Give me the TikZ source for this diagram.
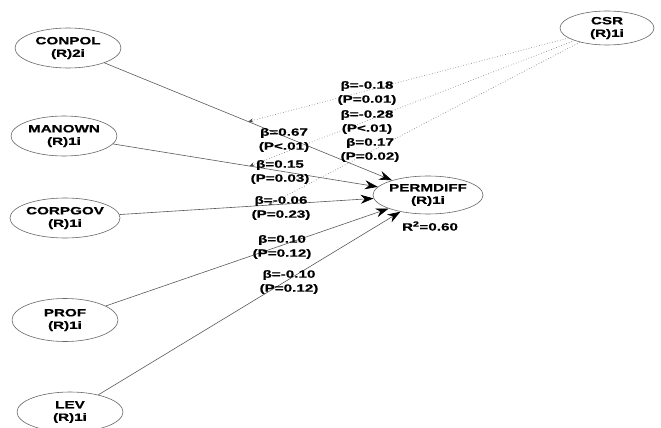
\documentclass[tikz,border=0pt]{standalone}
\usepackage{fontspec}
\setmainfont{Liberation Sans}[FakeStretch=1.45,BoldFeatures={FakeBold=0.6}]
\usetikzlibrary{shapes.geometric,arrows.meta}
\begin{document}
\begin{tikzpicture}[x=1pt,y=-1pt,
 lv/.style={ellipse,draw=black!60,line width=0.6pt,minimum width=106pt,minimum height=40pt,inner sep=0pt,align=center,font=\bfseries\fontsize{10.5}{12.5}\selectfont},
 pathline/.style={draw=black!65,line width=0.6pt,-{Stealth[length=13pt,width=9pt,black]}},
 modline/.style={draw=black!45,dotted,line width=0.7pt,-{Stealth[length=5pt,width=4pt,black!70]}},
 lbl/.style={align=center,font=\bfseries\fontsize{10.5}{14}\selectfont,inner sep=0pt}]
\useasboundingbox (0,0) rectangle (661,428);
\node[lv] (CONPOL) at (68,48) {CONPOL\\(R)2i};
\node[lv] (MANOWN) at (64,136) {MANOWN\\(R)1i};
\node[lv] (CORPGOV) at (65,218) {CORPGOV\\(R)1i};
\node[lv,minimum height=43pt] (PROF) at (65,320) {PROF\\(R)1i};
\node[lv] (LEV) at (70,412) {LEV\\(R)1i};
\node[lv,minimum height=38pt] (PERMDIFF) at (428,195) {PERMDIFF\\(R)1i};
\node[lv,minimum width=94pt,minimum height=34pt] (CSR) at (607,28) {CSR\\(R)1i};
\draw[pathline] (CONPOL) -- (PERMDIFF);
\draw[pathline] (MANOWN) -- (PERMDIFF);
\draw[pathline] (CORPGOV) -- (PERMDIFF);
\draw[pathline] (PROF) -- (PERMDIFF);
\draw[pathline] (LEV) -- (PERMDIFF);
\path (CONPOL) -- (PERMDIFF) coordinate[pos=0.5] (m1);
\path (MANOWN) -- (PERMDIFF) coordinate[pos=0.515] (m2);
\path (CORPGOV) -- (PERMDIFF) coordinate[pos=0.585] (m3);
\draw[modline] (CSR) -- (m1);
\draw[modline] (CSR) -- (m2);
\draw[modline] (CSR) -- (m3);
\node[lbl] (l1) at (284,140) {β=0.67\\(P<.01)};
\node[lbl] (l2) at (280,172) {β=0.15\\(P=0.03)};
\node[lbl] (l3) at (281,208) {β=-0.06\\(P=0.23)};
\node[lbl] (l4) at (282,247) {β=0.10\\(P=0.12)};
\node[lbl] (l5) at (289,282) {β=-0.10\\(P=0.12)};
\node[lbl] (l6) at (367,93) {β=-0.18\\(P=0.01)};
\node[lbl] (l7) at (367,122) {β=-0.28\\(P<.01)};
\node[lbl] (l8) at (370,150) {β=0.17\\(P=0.02)};
\node[lbl] (r2) at (430,226) {R\textsuperscript{2}=0.60};
\end{tikzpicture}
\end{document}
